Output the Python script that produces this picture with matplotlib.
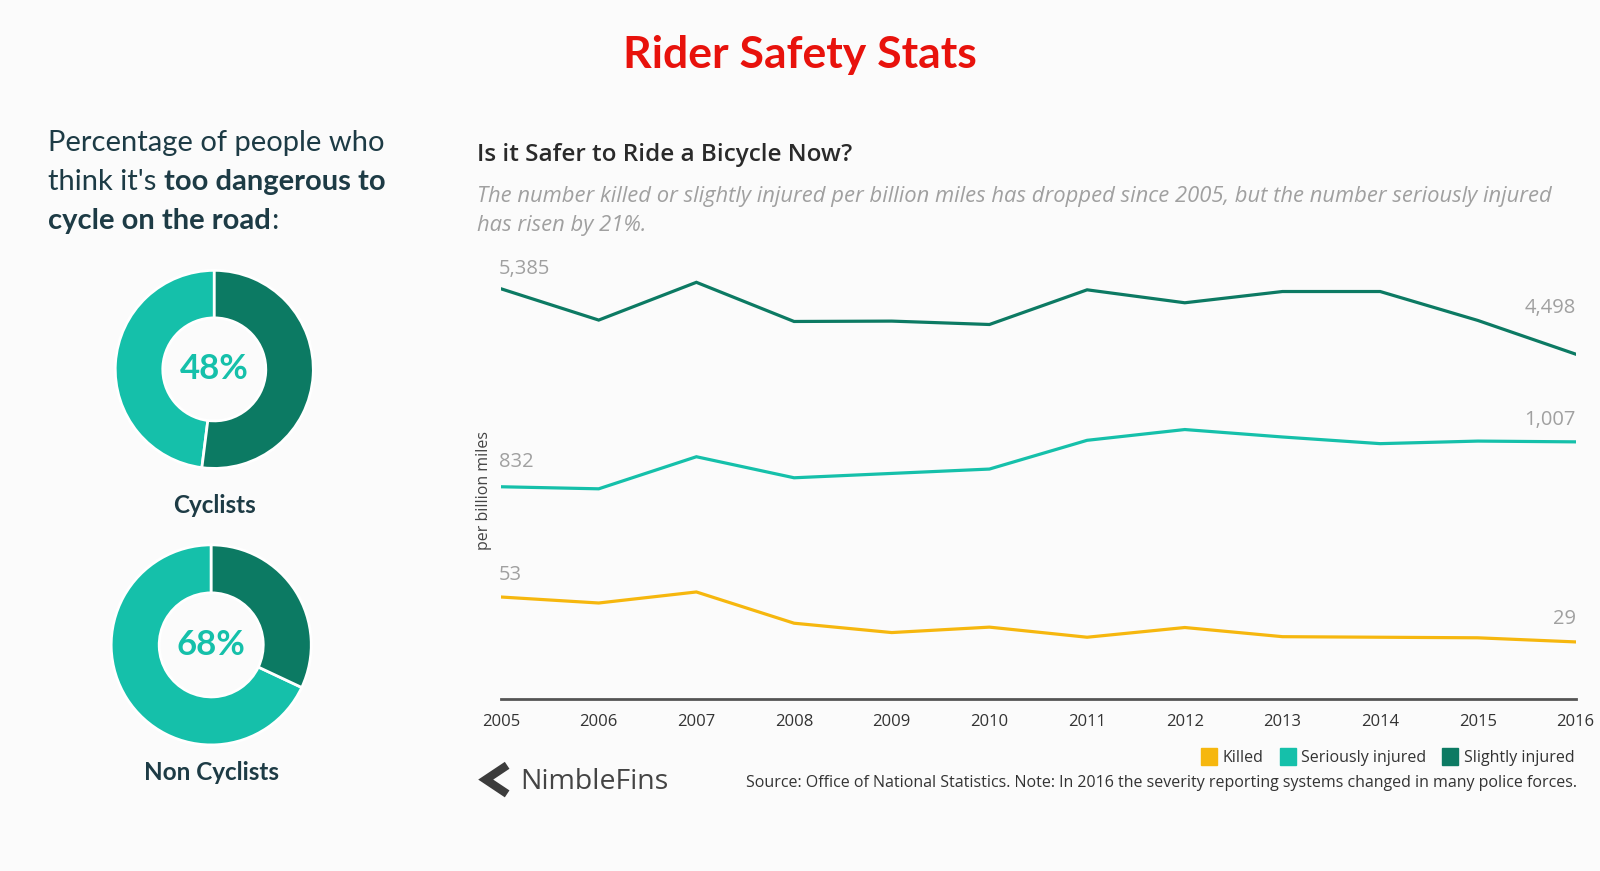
import matplotlib.pyplot as plt
from matplotlib.patches import Patch

# data
years = list(range(2005, 2017))
killed = [53, 49.8, 55.7, 39.0, 34.0, 36.9, 31.5, 36.7, 31.8, 31.5, 31.2, 29]
serious = [832, 824, 949, 867, 884, 901, 1013, 1055, 1026, 1000, 1010, 1007]
slight = [5385, 4960, 5473, 4941, 4946, 4900, 5371, 5195, 5348, 5348, 4955, 4498]

groups = ["Cyclists", "Non Cyclists"]
too_dangerous = [48, 68]

C_KILLED = "#f6b70e"
C_SERIOUS = "#15c0aa"
C_SLIGHT = "#0c7a63"
C_DARKTXT = "#1d3b45"
BG = "#fbfbfb"
CHART_FONT = ["Open Sans", "DejaVu Sans"]

plt.rcParams["font.family"] = ["Lato", "DejaVu Sans"]

# layout grid measured on a 1568 px wide view of the reference
W = 1568
H = 871 * W / 1600

fig = plt.figure(figsize=(16, 8.71), dpi=100, facecolor=BG)
bg = fig.add_axes([0, 0, 1, 1])
bg.set_xlim(0, W)
bg.set_ylim(H, 0)
bg.axis("off")

# title
bg.text(784, 54, "Rider Safety Stats", color="#e8120c", fontsize=32,
        fontweight="bold", ha="center", va="center")

# left panel heading, mixed weights
kw = dict(fontsize=21, color=C_DARKTXT)
t = bg.text(47, 148, "Percentage of people who", va="baseline", **kw)
t = bg.text(47, 186, "think it's ", va="baseline", **kw)
bg.annotate("too dangerous to", xy=(1, 0), xycoords=t, va="bottom",
            fontweight="bold", **kw)
t = bg.text(47, 224, "cycle on the road", va="baseline", fontweight="bold", **kw)
bg.annotate(":", xy=(1, 0), xycoords=t, va="bottom", **kw)

# donuts
boxes = [(111, 263, 198), (107, 532, 200)]
label_y = [495, 757]
for (x0, y0, d), name, pct, ly in zip(boxes, groups, too_dangerous, label_y):
    ax = fig.add_axes([x0 / W, 1 - (y0 + d) / H, d / W, d / H])
    ax.pie([pct, 100 - pct], colors=[C_SERIOUS, C_SLIGHT], startangle=90,
           counterclock=True, radius=1,
           wedgeprops=dict(width=0.48, edgecolor="white", linewidth=2))
    ax.set_xlim(-1.02, 1.02)
    ax.set_ylim(-1.02, 1.02)
    ax.text(0, 0, f"{pct}%", ha="center", va="center", fontsize=25,
            fontweight="bold", color=C_SERIOUS)
    bg.text(x0 + d / 2, ly, name, ha="center", va="center", fontsize=17.5,
            fontweight="bold", color=C_DARKTXT)

# line chart headings
bg.text(467, 152, "Is it Safer to Ride a Bicycle Now?", fontsize=17.5,
        color="#2a2a2a", va="center", family=CHART_FONT, fontweight="semibold")
bg.text(467, 193, "The number killed or slightly injured per billion miles has dropped since 2005, but the number seriously injured",
        fontsize=15.8, color="#a0a0a0", style="italic", va="center", family=CHART_FONT)
bg.text(467, 221, "has risen by 21%.", fontsize=15.8, color="#a0a0a0",
        style="italic", va="center", family=CHART_FONT)

# line chart: each series on its own vertical scale
rect = [491 / W, 1 - 685 / H, (1544 - 491) / W, (685 - 260) / H]
ax = fig.add_axes(rect)
ax.set_facecolor("none")
ax2 = ax.twinx()
ax3 = ax.twinx()

series = [
    (ax, slight, C_SLIGHT, (-187, 5704), 10, 36),
    (ax2, serious, C_SERIOUS, (5, 1695), 15, 12),
    (ax3, killed, C_KILLED, (-1.5, 230.3), 12, 13),
]
for a, vals, col, lim, off0, off1 in series:
    a.plot(years, vals, color=col, linewidth=2.3, solid_joinstyle="miter")
    a.set_ylim(*lim)
    a.set_yticks([])
    for s in a.spines.values():
        s.set_visible(False)
    a.annotate(f"{vals[0]:,.0f}", (years[0], vals[0]), xytext=(-2, off0),
               textcoords="offset pixels", ha="left", va="bottom",
               fontsize=14.5, color="#a0a0a0", family=CHART_FONT)
    a.annotate(f"{vals[-1]:,.0f}", (years[-1], vals[-1]), xytext=(0, off1),
               textcoords="offset pixels", ha="right", va="bottom",
               fontsize=14.5, color="#a0a0a0", family=CHART_FONT)

ax.set_xlim(years[0], years[-1])
ax.spines["bottom"].set_visible(True)
ax.spines["bottom"].set_color("#555555")
ax.spines["bottom"].set_linewidth(2)
ax.set_xticks(years)
ax.set_xticklabels([str(y) for y in years], family=CHART_FONT)
ax.tick_params(axis="x", length=0, pad=11, labelsize=12, labelcolor="#333333")
ax.set_ylabel("per billion miles", fontsize=11.5, color="#444444",
              family=CHART_FONT)
ax.yaxis.set_label_coords(-0.008, 0.48)

# legend
handles = [Patch(color=C_KILLED, label="Killed"),
           Patch(color=C_SERIOUS, label="Seriously injured"),
           Patch(color=C_SLIGHT, label="Slightly injured")]
fig.legend(handles=handles, ncol=3, loc="center right",
           bbox_to_anchor=(1557 / W, 1 - 742 / H), frameon=False,
           prop=dict(family=CHART_FONT, size=11.5),
           handlelength=1.0, handleheight=1.2,
           handletextpad=0.35, columnspacing=1.0, labelcolor="#333333")

# source note
bg.text(1545, 767, "Source: Office of National Statistics. Note: In 2016 the severity reporting systems changed in many police forces.",
        ha="right", va="center", fontsize=11.5, color="#333333", family=CHART_FONT)

# logo
bg.plot([497, 476, 497], [750, 764, 778], color="#3c3c3c", linewidth=6,
        solid_capstyle="butt", solid_joinstyle="miter")
bg.text(510, 766, "NimbleFins", fontsize=20.5, color="#444444", va="center",
        family=CHART_FONT)

fig.savefig("out.png", dpi=100, facecolor=BG)
